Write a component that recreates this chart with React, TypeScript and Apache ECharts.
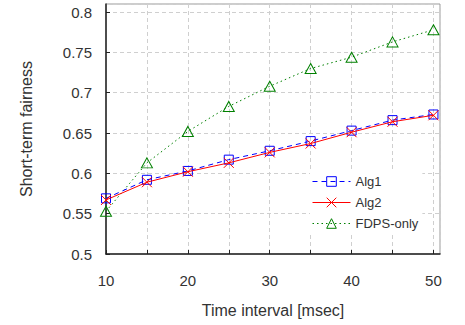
import React, { useEffect, useRef } from "react";
import * as echarts from "echarts";

const xValues = [10, 15, 20, 25, 30, 35, 40, 45, 50];
const alg1 = [0.569, 0.592, 0.603, 0.617, 0.628, 0.640, 0.653, 0.666, 0.673];
const alg2 = [0.567, 0.589, 0.602, 0.613, 0.626, 0.637, 0.651, 0.664, 0.672];
const fdpsOnly = [0.553, 0.613, 0.652, 0.683, 0.708, 0.730, 0.744, 0.763, 0.778];
const seriesNames = ["Alg1", "Alg2", "FDPS-only"];

const FONT = "'Liberation Sans', Arial, sans-serif";

export default function App() {
  const ref = useRef<HTMLDivElement>(null);
  useEffect(() => {
    if (!ref.current) return;
    const chart = echarts.init(ref.current, undefined, { renderer: "svg" });
    const pair = (ys: number[]) => xValues.map((x, i) => [x, ys[i]]);
    chart.setOption({
      animation: false,
      backgroundColor: "#fff",
      textStyle: { fontFamily: FONT },
      grid: {
        left: 106,
        right: 25,
        top: 4,
        bottom: 71,
        show: true,
        borderColor: "#9a9a9a",
        borderWidth: 1,
      },
      legend: {
        orient: "vertical",
        left: 310,
        top: 172,
        itemWidth: 38,
        itemHeight: 12,
        itemGap: 8,
        backgroundColor: "#fff",
        padding: [3, 4, 3, 2],
        textStyle: { fontSize: 13, color: "#333", fontFamily: FONT },
        lineStyle: { width: 1 },
        itemStyle: { borderWidth: 1 },
        data: seriesNames,
      },
      xAxis: {
        type: "value",
        min: 10,
        max: 50.8,
        interval: 5,
        name: "Time interval [msec]",
        nameLocation: "middle",
        nameGap: 48,
        nameTextStyle: { fontSize: 16, color: "#333", fontFamily: FONT },
        axisLine: { show: true, lineStyle: { color: "#222", width: 1.5 } },
        axisTick: { show: true, inside: true, length: 4, lineStyle: { color: "#222" } },
        axisLabel: {
          fontSize: 15,
          color: "#333",
          margin: 19,
          showMaxLabel: false,
          formatter: (v: number) => {
            const r = Math.round(v);
            return Math.abs(v - r) < 1e-6 && r % 10 === 0 ? String(r) : "";
          },
        },
        splitLine: { show: true, lineStyle: { color: "#cfcfcf", type: [4, 3] } },
      },
      yAxis: {
        type: "value",
        min: 0.5,
        max: 0.81,
        interval: 0.05,
        name: "Short-term fairness",
        nameLocation: "middle",
        nameGap: 72,
        nameTextStyle: { fontSize: 16, color: "#333", fontFamily: FONT },
        axisLine: { show: true, lineStyle: { color: "#222", width: 1.5 } },
        axisTick: { show: true, inside: true, length: 4, lineStyle: { color: "#222" } },
        axisLabel: {
          fontSize: 15,
          color: "#333",
          margin: 14,
          showMaxLabel: false,
          formatter: (v: number) => {
            const r = Math.round(v * 100);
            if (Math.abs(v * 100 - r) > 1e-4 || r % 5 !== 0) return "";
            return String(+(r / 100).toFixed(2));
          },
        },
        splitLine: { show: true, lineStyle: { color: "#cfcfcf", type: [4, 3] } },
      },
      series: [
        {
          name: "Alg1",
          type: "line",
          data: pair(alg1),
          symbol: "rect",
          symbolSize: 9,
          z: 3,
          lineStyle: { color: "#0000ff", width: 1, type: [5, 4] },
          itemStyle: { color: "rgba(255,255,255,0)", borderColor: "#0000ff", borderWidth: 1 },
        },
        {
          name: "Alg2",
          type: "line",
          data: pair(alg2),
          symbol: "path://M0,0L10,10M10,0L0,10",
          symbolSize: 10,
          z: 4,
          lineStyle: { color: "#ff0000", width: 1, type: "solid" },
          itemStyle: { color: "rgba(255,255,255,0)", borderColor: "#ff0000", borderWidth: 1 },
        },
        {
          name: "FDPS-only",
          type: "line",
          data: pair(fdpsOnly),
          symbol: "triangle",
          symbolSize: [11, 10],
          z: 2,
          lineStyle: { color: "#008000", width: 1, type: [1.5, 3] },
          itemStyle: { color: "rgba(255,255,255,0)", borderColor: "#008000", borderWidth: 1 },
        },
      ],
    });
    return () => chart.dispose();
  }, []);
  return <div ref={ref} style={{ width: 465, height: 325, position: "absolute", left: 0, top: 0 }} />;
}
